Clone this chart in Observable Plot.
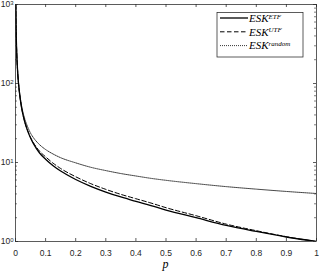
<!DOCTYPE html>
<html>
<head>
<meta charset="utf-8">
<script src="https://cdn.jsdelivr.net/npm/d3@7"></script>
<script src="https://cdn.jsdelivr.net/npm/@observablehq/plot@0.6"></script>
<style>
  html, body { margin: 0; padding: 0; background: #fff; }
  #chart svg { display: block; }
</style>
</head>
<body>
<div id="chart"></div>
<script>
// ---- data ----
const P      = [0.001,0.002,0.004,0.006,0.008,0.01,0.015,0.02,0.03,0.04,0.05,0.06,0.08,0.1,0.125,0.15,0.2,0.25,0.3,0.35,0.4,0.45,0.5,0.6,0.7,0.8,0.9,1.0];
const ETF    = [1000,500,250,167,125,100,67,50,33.5,25.3,20.4,17.2,13.2,11,9.1,7.8,6.1,5.0,4.23,3.66,3.22,2.85,2.5,2.0,1.6,1.34,1.14,1.0];
const UTF    = [1000,500,250,167,125,100,67,50,33.5,25.6,20.8,17.7,13.9,11.8,9.8,8.4,6.6,5.4,4.57,3.95,3.48,3.07,2.68,2.12,1.66,1.37,1.15,1.0];
const RANDOM = [1000,500,252,170,128,103,70,53,36.5,28.5,23.5,20.5,16.8,14.6,12.8,11.5,9.9,8.7,7.9,7.25,6.75,6.3,5.95,5.4,4.95,4.6,4.3,4.05];

const X_TICKS  = [0,0.1,0.2,0.3,0.4,0.5,0.6,0.7,0.8,0.9,1];
const X_LABELS = ["0","0.1","0.2","0.3","0.4","0.5","0.6","0.7","0.8","0.9","1"];
const Y_TICKS  = [1,10,100,1000];
const Y_EXPS   = ["0","1","2","3"];
const Y_MINOR  = [2,3,4,5,6,7,8,9,20,30,40,50,60,70,80,90,200,300,400,500,600,700,800,900];

const SERIES = [
  {name: "ESK", sup: "ETF",    values: ETF,    dash: null,      width: 1.3},
  {name: "ESK", sup: "UTF",    values: UTF,    dash: "4.5,2.5", width: 1.0},
  {name: "ESK", sup: "random", values: RANDOM, dash: "1,1",     width: 0.8}
];

// ---- layout ----
const W = 319, H = 272;
const mL = 15, mR = 3, mT = 4, mB = 31;
const innerW = W - mL - mR, innerH = H - mT - mB;
const axisColor = "#262626";
const serif = "'Liberation Serif', 'DejaVu Serif', serif";

const lineMarks = SERIES.map(s =>
  Plot.line(P.map((p, i) => ({p, v: s.values[i]})), {
    x: "p", y: "v", stroke: "black", strokeWidth: s.width,
    strokeDasharray: s.dash, curve: "monotone-x", clip: true
  })
);

const plot = Plot.plot({
  width: W, height: H,
  marginLeft: mL, marginRight: mR, marginTop: mT, marginBottom: mB,
  style: {fontFamily: "'Liberation Sans', Arial, sans-serif", fontSize: "8.5px", background: "#fff", color: axisColor},
  x: {domain: [0, 1], label: null},
  y: {type: "log", domain: [1, 1000], label: null},
  marks: [
    ...lineMarks,
    Plot.frame({stroke: axisColor, strokeWidth: 0.75}),
    Plot.ruleX(X_TICKS, {x: d => d, insetTop: innerH - 3, stroke: axisColor, strokeWidth: 0.75}),
    Plot.ruleX(X_TICKS, {x: d => d, insetBottom: innerH - 3, stroke: axisColor, strokeWidth: 0.75}),
    Plot.ruleY(Y_TICKS, {y: d => d, insetRight: innerW - 3, stroke: axisColor, strokeWidth: 0.75}),
    Plot.ruleY(Y_TICKS, {y: d => d, insetLeft: innerW - 3, stroke: axisColor, strokeWidth: 0.75}),
    Plot.ruleY(Y_MINOR, {y: d => d, insetRight: innerW - 2, stroke: axisColor, strokeWidth: 0.6}),
    Plot.ruleY(Y_MINOR, {y: d => d, insetLeft: innerW - 2, stroke: axisColor, strokeWidth: 0.6}),
    Plot.axisX({ticks: X_TICKS, tickSize: 0, tickPadding: 8, tickFormat: d => X_LABELS[X_TICKS.indexOf(d)], label: null}),
    Plot.axisY({ticks: [], tickSize: 0, label: null})
  ]
});

document.getElementById("chart").appendChild(plot);

const svg = d3.select(plot);
const ys = plot.scale("y"), xs = plot.scale("x");

// y tick labels with superscripts
const yl = svg.append("g")
  .attr("font-family", "'Liberation Sans', Arial, sans-serif")
  .attr("font-size", "8.5px").attr("fill", axisColor).attr("text-anchor", "end");
Y_TICKS.forEach((v, i) => {
  const t = yl.append("text").attr("x", mL - 1.5).attr("y", ys.apply(v) + 3.2).attr("text-anchor", "end");
  t.append("tspan").text("10");
  t.append("tspan").attr("dy", "-0.45em").attr("font-size", "6px").text(Y_EXPS[i]);
});

// x axis label
svg.append("text")
  .attr("x", xs.apply(0.5)).attr("y", 268)
  .attr("text-anchor", "middle")
  .attr("font-family", serif)
  .attr("font-style", "italic").attr("font-size", "12px").attr("fill", "black")
  .text("p");

// legend
const lg = svg.append("g").attr("text-anchor", "start");
const bx = 217, by = 12.5, bw = 86, bh = 44.5;
lg.append("rect").attr("x", bx).attr("y", by).attr("width", bw).attr("height", bh)
  .attr("fill", "white").attr("stroke", axisColor).attr("stroke-width", 0.75);
SERIES.forEach((s, i) => {
  const cy = 18 + i * 13.8;
  lg.append("line").attr("x1", 220).attr("x2", 248).attr("y1", cy).attr("y2", cy)
    .attr("stroke", "black").attr("stroke-width", s.width)
    .attr("stroke-dasharray", s.dash);
  const t = lg.append("text").attr("x", 249).attr("y", cy + 3.8)
    .attr("text-anchor", "start")
    .attr("font-family", serif)
    .attr("font-style", "italic").attr("font-size", "11px").attr("fill", "black");
  t.append("tspan").text(s.name);
  t.append("tspan").attr("dy", "-0.45em").attr("font-size", "7px").text(s.sup);
});
</script>
</body>
</html>
